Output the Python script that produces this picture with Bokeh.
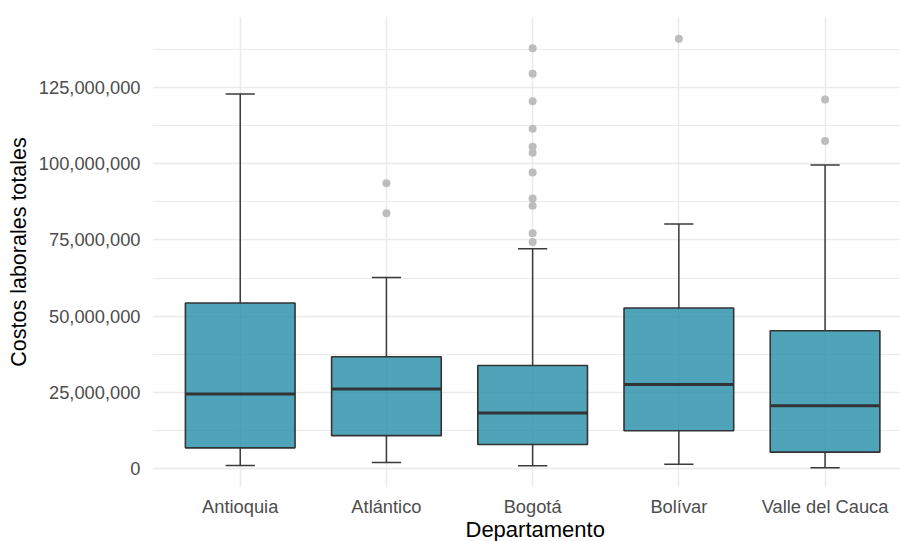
import numpy as np
from bokeh.plotting import figure
from bokeh.models import Range1d, FixedTicker, NumeralTickFormatter, Title
from bokeh.embed import file_html
from bokeh.resources import INLINE

# ---- data ----
departamentos = ["Antioquia", "Atlántico", "Bogotá", "Bolívar", "Valle del Cauca"]
q1 = [6.8e6, 10.8e6, 7.9e6, 12.4e6, 5.4e6]
medianas = [24.5e6, 26.1e6, 18.2e6, 27.6e6, 20.6e6]
q3 = [54.3e6, 36.7e6, 33.8e6, 52.7e6, 45.2e6]
bigote_inf = [1.0e6, 2.0e6, 0.9e6, 1.4e6, 0.3e6]
bigote_sup = [122.9e6, 62.7e6, 72.1e6, 80.2e6, 99.6e6]
atipicos = {
    "Atlántico": [93.6e6, 83.8e6],
    "Bogotá": [137.9e6, 129.5e6, 120.5e6, 111.5e6, 105.6e6, 103.6e6,
               97.1e6, 88.6e6, 86.2e6, 77.2e6, 74.3e6],
    "Bolívar": [141.0e6],
    "Valle del Cauca": [121.1e6, 107.5e6],
}
y_ticks = [0, 25e6, 50e6, 75e6, 100e6, 125e6]
y_minor = [12.5e6, 37.5e6, 62.5e6, 87.5e6, 112.5e6, 137.5e6]

pos = np.arange(1, len(departamentos) + 1, dtype=float)

p = figure(width=900, height=541, output_backend="svg", toolbar_location=None,
           x_range=Range1d(0.4, 5.516), y_range=Range1d(-6.2e6, 148.3e6),
           min_border_left=152, min_border_right=0, min_border_top=16,
           min_border_bottom=54)
p.outline_line_color = None
p.background_fill_color = "white"
p.border_fill_color = "white"

# grids
p.xgrid.ticker = FixedTicker(ticks=list(pos))
p.ygrid.ticker = FixedTicker(ticks=y_ticks, minor_ticks=y_minor)
p.xgrid.grid_line_color = "#EBEBEB"
p.ygrid.grid_line_color = "#EBEBEB"
p.xgrid.grid_line_width = 1.5
p.ygrid.grid_line_width = 1.5
p.ygrid.minor_grid_line_color = "#EBEBEB"
p.ygrid.minor_grid_line_width = 1.2

# axes
p.xaxis.ticker = FixedTicker(ticks=list(pos))
p.xaxis.major_label_overrides = {int(x): d for x, d in zip(pos, departamentos)}
p.yaxis.ticker = FixedTicker(ticks=y_ticks)
p.yaxis.formatter = NumeralTickFormatter(format="0,0")
for ax in (p.xaxis, p.yaxis):
    ax.axis_line_color = None
    ax.major_tick_line_color = None
    ax.minor_tick_line_color = None
    ax.major_tick_out = 0
    ax.major_tick_in = 0
    ax.minor_tick_out = 0
    ax.minor_tick_in = 0
    ax.major_label_text_font = "Liberation Sans"
    ax.major_label_text_font_size = "18.3px"
    ax.major_label_text_color = "#4D4D4D"
p.yaxis.major_label_standoff = 12
p.xaxis.major_label_standoff = 8
p.yaxis.axis_label = "Costos laborales totales"
p.yaxis.axis_label_text_font = "Liberation Sans"
p.yaxis.axis_label_text_font_size = "21.5px"
p.yaxis.axis_label_text_font_style = "normal"
p.yaxis.axis_label_text_color = "black"
p.yaxis.axis_label_standoff = 5

# whiskers
wcol = "#3A3A3A"
p.segment(x0=pos, y0=q3, x1=pos, y1=bigote_sup, line_color=wcol, line_width=1.5)
p.segment(x0=pos, y0=q1, x1=pos, y1=bigote_inf, line_color=wcol, line_width=1.5)
p.segment(x0=pos - 0.1, y0=bigote_sup, x1=pos + 0.1, y1=bigote_sup, line_color=wcol, line_width=1.5)
p.segment(x0=pos - 0.1, y0=bigote_inf, x1=pos + 0.1, y1=bigote_inf, line_color=wcol, line_width=1.5)

# boxes
p.vbar(x=pos, bottom=q1, top=q3, width=0.75, fill_color="#248DA8", fill_alpha=0.8,
       line_color="#333333", line_width=1.6)
p.segment(x0=pos - 0.375, y0=medianas, x1=pos + 0.375, y1=medianas,
          line_color="#333333", line_width=3)

# outliers
ox, oy = [], []
for d, vals in atipicos.items():
    i = departamentos.index(d)
    ox += [pos[i]] * len(vals)
    oy += vals
p.scatter(ox, oy, size=8, fill_color="#BDBDBD", line_color=None)

# x axis title (centred on the full panel of the original chart)
p.add_layout(Title(text="Departamento", align="left", offset=313, standoff=-9,
                   text_font="Liberation Sans", text_font_size="22px",
                   text_font_style="normal", text_color="black"), "below")

open("out.html", "w").write(file_html(p, INLINE))
